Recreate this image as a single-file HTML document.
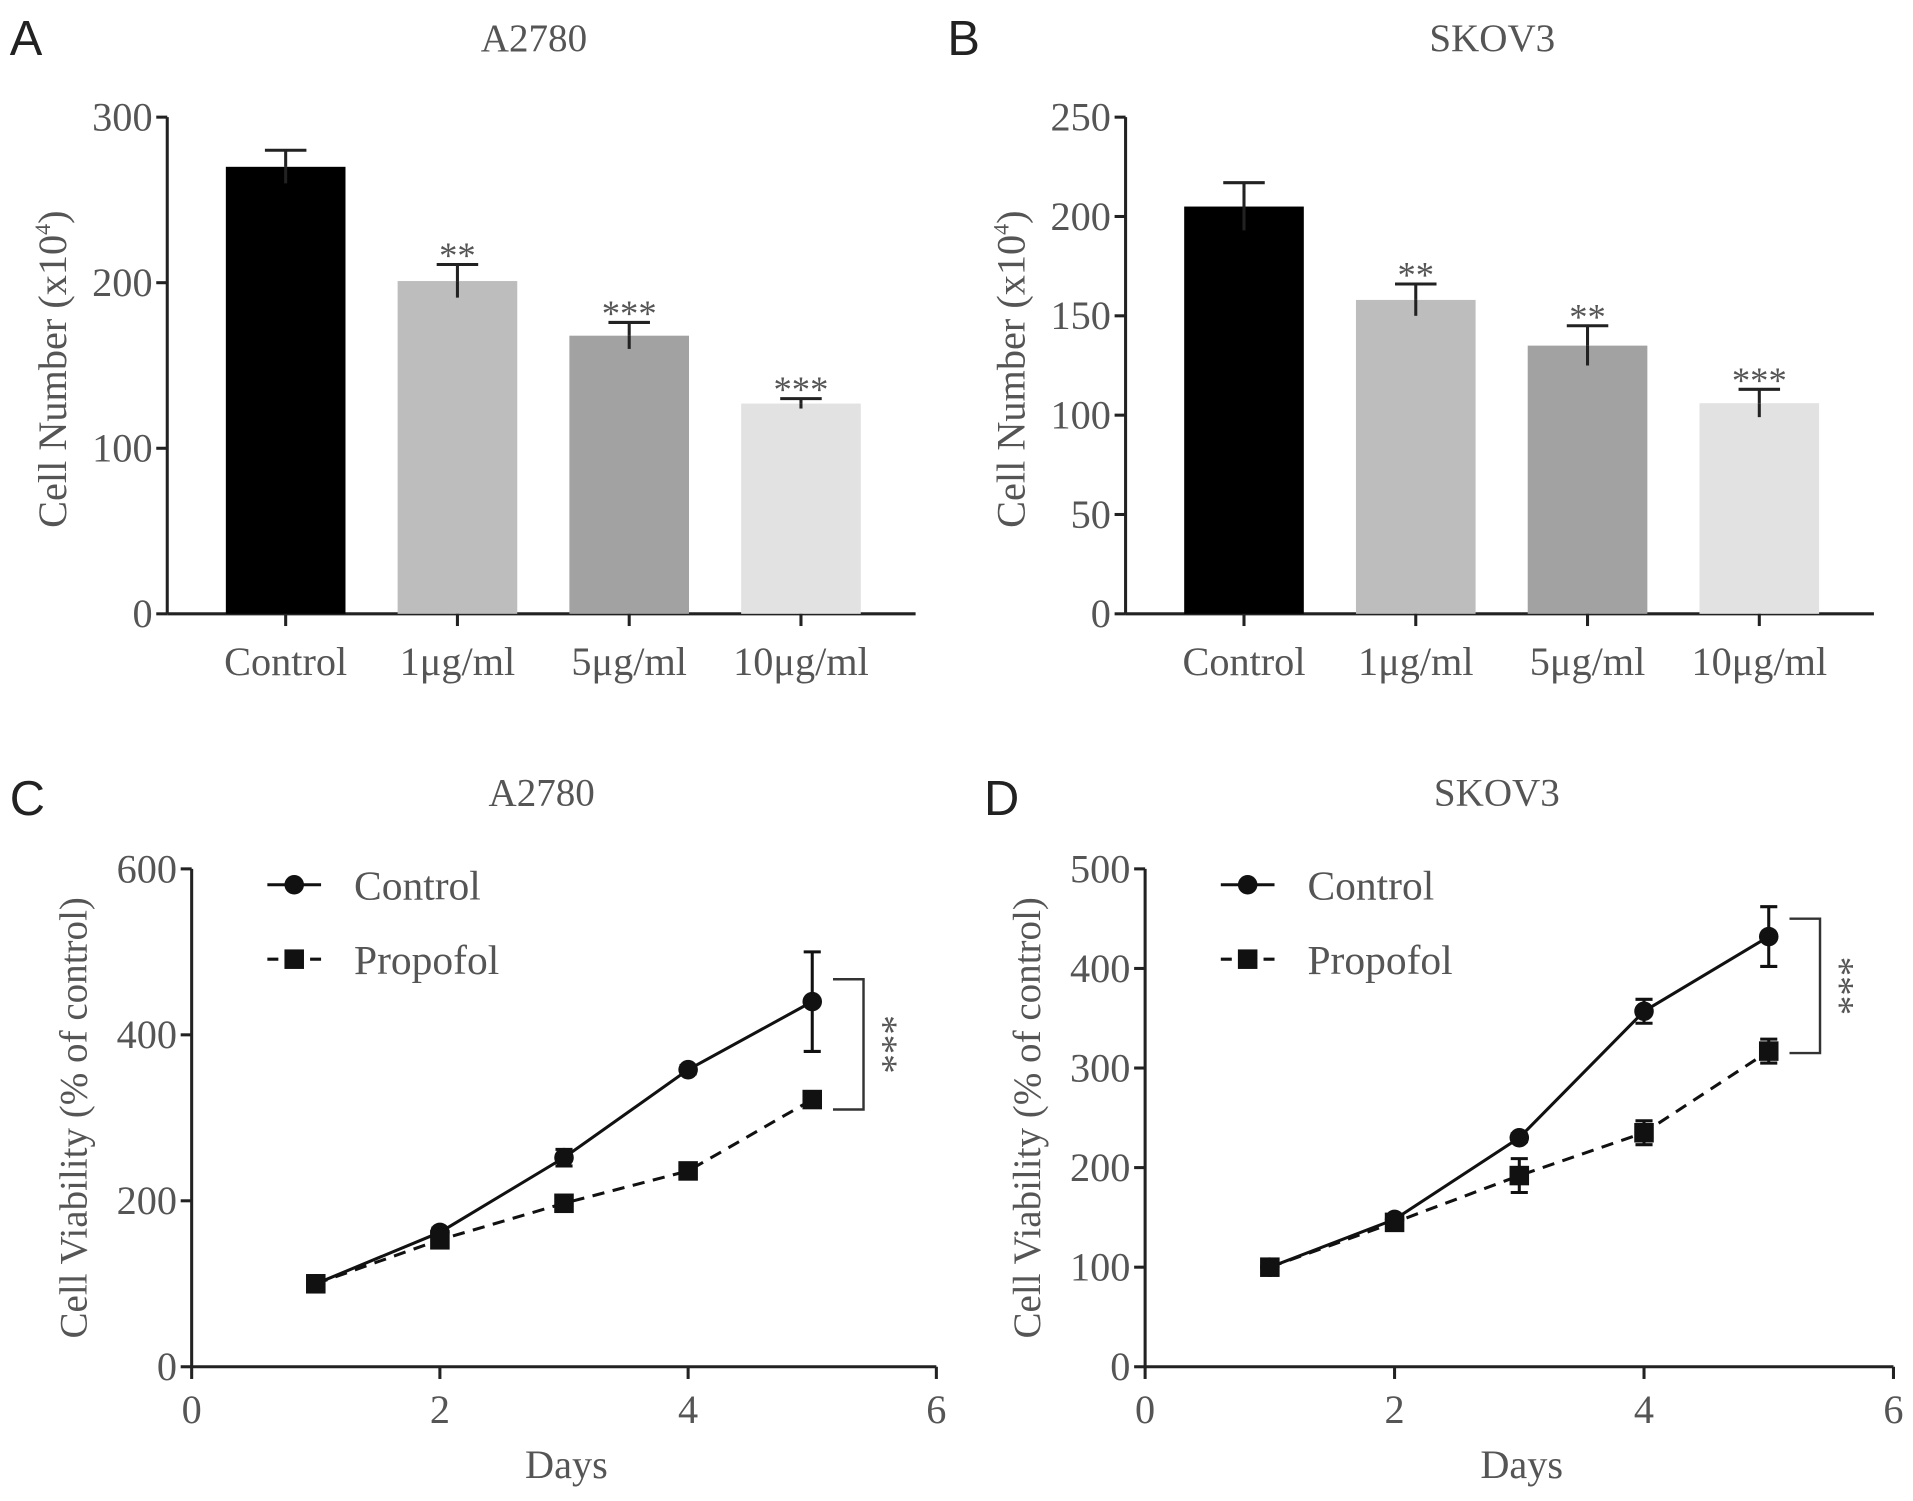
<!DOCTYPE html>
<html><head><meta charset="utf-8">
<style>
html,body{margin:0;padding:0;background:#fff;}
svg{display:block;}
text{font-family:"Liberation Serif",serif;fill:#555;}
.lbl{font-family:"Liberation Sans",sans-serif;fill:#222;}
</style></head>
<body>
<svg id="fig" width="1913" height="1501" viewBox="0 0 1567 1230" preserveAspectRatio="none"></svg>
<script>
const barCats = ["Control","1μg/ml","5μg/ml","10μg/ml"];
const barFills = ["#000","#bdbdbd","#a2a2a2","#e2e2e2"];
const aValues = [270,201,168,127];
const aErrors = [10,10,8,3];
const aStars = ["","**","***","***"];
const aTicks = [0,100,200,300];
const bValues = [205,158,135,106];
const bErrors = [12,8,10,7];
const bStars = ["","**","**","***"];
const bTicks = [0,50,100,150,200,250];
const days = [1,2,3,4,5];
const dayTicks = [0,2,4,6];
const cControl = [100,162,252,358,440];
const cControlErr = [3,5,10,5,60];
const cPropofol = [100,153,197,236,322];
const cPropofolErr = [3,4,5,5,6];
const cTicks = [0,200,400,600];
const dControl = [100,148,230,357,432];
const dControlErr = [3,4,4,12,30];
const dPropofol = [100,145,192,235,317];
const dPropofolErr = [3,4,17,12,12];
const dTicks = [0,100,200,300,400,500];

const NS="http://www.w3.org/2000/svg";
const svg=document.getElementById('fig');
function mk(tag,attrs,parent,txt){const e=document.createElementNS(NS,tag);for(const k in attrs)e.setAttribute(k,attrs[k]);if(txt!==undefined)e.textContent=txt;(parent||svg).appendChild(e);return e;}

function yAxis(g,x0,yTop,yBot,ticks,max){
  const sy=v=>yBot-(v/max)*(yBot-yTop);
  const ax=mk('line',{x1:x0,y1:yTop,x2:x0,y2:yBot,stroke:'#222','stroke-width':2.5},g);
  
  
  ticks.forEach(t=>{
    mk('line',{x1:x0-9,y1:sy(t),x2:x0,y2:sy(t),stroke:'#222','stroke-width':2.5},g);
    const tl=mk('text',{x:x0-12,y:sy(t)+11,'text-anchor':'end','font-size':33},g,String(t));
    
    
  });
  return sy;
}

function barPanel(name,letter,title,x0,xEnd,yTop,yBot,ticks,max,vals,errs,stars,letterX){
  const g=mk('g',{});
  
  
  const pl=mk('text',{x:letterX,y:45,'font-size':40,class:'lbl'},g,letter);
  
  
  const tt=mk('text',{x:x0+(xEnd-x0)*0.49,y:42,'text-anchor':'middle','font-size':32},g,title);
  
  
  const sy=yAxis(g,x0,yTop,yBot,ticks,max);
  const yt=mk('text',{x:0,y:0,'text-anchor':'middle','font-size':33,transform:`translate(${x0-83},${(yTop+yBot)/2+3}) rotate(-90)`},g);
  
  
  yt.appendChild(document.createTextNode('Cell Number (x10'));
  mk('tspan',{'font-size':18,dy:-13},yt,'4');
  mk('tspan',{dy:13},yt,')');
  const xa=mk('line',{x1:x0,y1:yBot,x2:xEnd,y2:yBot,stroke:'#222','stroke-width':2.5},g);
  
  
  const bw=98;
  vals.forEach((v,i)=>{
    const cx=x0+48+bw/2+i*140.7;
    const r=mk('rect',{x:cx-bw/2,y:sy(v),width:bw,height:yBot-sy(v),fill:barFills[i]},g);
    
    
    mk('line',{x1:cx,y1:sy(v),x2:cx,y2:sy(v+errs[i]),stroke:'#222','stroke-width':2.5},g);
    mk('line',{x1:cx-17,y1:sy(v+errs[i]),x2:cx+17,y2:sy(v+errs[i]),stroke:'#222','stroke-width':2.5},g);
    if(v-errs[i]>0) mk('line',{x1:cx,y1:sy(v),x2:cx,y2:sy(v-errs[i]),stroke:'#222','stroke-width':2.5},g);
    if(stars[i]){const s=mk('text',{x:cx,y:sy(v+errs[i])+3,'text-anchor':'middle','font-size':30,fill:'#333'},g,stars[i]);
      
      }
    mk('line',{x1:cx,y1:yBot,x2:cx,y2:yBot+10,stroke:'#222','stroke-width':2.5},g);
    const cl=mk('text',{x:cx,y:yBot+50,'text-anchor':'middle','font-size':33},g,barCats[i]);
    
    
  });
}

function linePanel(name,letter,title,x0,x6,yTop,yBot,ticks,max,ctl,ctlE,pro,proE,bracket,letterX){
  const g=mk('g',{});
  
  
  const pl=mk('text',{x:letterX,y:668,'font-size':40,class:'lbl'},g,letter);
  
  
  const tt=mk('text',{x:x0+(x6-x0)*0.47,y:660,'text-anchor':'middle','font-size':32},g,title);
  
  
  const sy=yAxis(g,x0,yTop,yBot,ticks,max);
  const sx=d=>x0+d/6*(x6-x0);
  const yt=mk('text',{x:0,y:0,'text-anchor':'middle','font-size':32,transform:`translate(${x0-86},${(yTop+yBot)/2}) rotate(-90)`},g,'Cell Viability (% of control)');
  
  
  const xa=mk('line',{x1:x0,y1:yBot,x2:x6,y2:yBot,stroke:'#222','stroke-width':2.5},g);
  
  
  dayTicks.forEach(t=>{
    mk('line',{x1:sx(t),y1:yBot,x2:sx(t),y2:yBot+10,stroke:'#222','stroke-width':2.5},g);
    const tl=mk('text',{x:sx(t),y:yBot+46,'text-anchor':'middle','font-size':33},g,String(t));
    
    
  });
  const xt=mk('text',{x:sx(3)+2,y:yBot+91,'text-anchor':'middle','font-size':33},g,'Days');
  
  
  const ptsP=days.map((d,i)=>sx(d)+','+sy(pro[i])).join(' ');
  const lp=mk('polyline',{points:ptsP,fill:'none',stroke:'#111','stroke-width':2.5,'stroke-dasharray':'10,7'},g);
  
  
  const ptsC=days.map((d,i)=>sx(d)+','+sy(ctl[i])).join(' ');
  const lc=mk('polyline',{points:ptsC,fill:'none',stroke:'#111','stroke-width':2.5},g);
  
  
  function err(x,v,e){
    mk('line',{x1:x,y1:sy(v-e),x2:x,y2:sy(v+e),stroke:'#111','stroke-width':2.5},g);
    mk('line',{x1:x-7,y1:sy(v-e),x2:x+7,y2:sy(v-e),stroke:'#111','stroke-width':2.5},g);
    mk('line',{x1:x-7,y1:sy(v+e),x2:x+7,y2:sy(v+e),stroke:'#111','stroke-width':2.5},g);
  }
  days.forEach((d,i)=>{
    err(sx(d),pro[i],proE[i]);
    const s=mk('rect',{x:sx(d)-8,y:sy(pro[i])-8,width:16,height:16,fill:'#111'},g);
    
    
    err(sx(d),ctl[i],ctlE[i]);
    const c=mk('circle',{cx:sx(d),cy:sy(ctl[i]),r:8,fill:'#111'},g);
    
    
  });
  const bx=sx(5)+17, bx2=bx+25;
  const br=mk('polyline',{points:`${bx},${sy(bracket[0])} ${bx2},${sy(bracket[0])} ${bx2},${sy(bracket[1])} ${bx},${sy(bracket[1])}`,fill:'none',stroke:'#333','stroke-width':2},g);
  
  
  const st=mk('text',{x:0,y:0,'text-anchor':'middle','font-size':32,fill:'#333',transform:`translate(${bx2+6},${(sy(bracket[0])+sy(bracket[1]))/2}) rotate(90)`},g,'***');
  
  
  const lx=x0+62;
  const le1=mk('g',{},g);
  
  
  mk('line',{x1:lx,y1:725,x2:lx+44,y2:725,stroke:'#111','stroke-width':2.5},le1);
  mk('circle',{cx:lx+22,cy:725,r:8,fill:'#111'},le1);
  mk('text',{x:lx+71,y:737,'font-size':34},le1,'Control');
  const le2=mk('g',{},g);
  
  
  mk('line',{x1:lx,y1:786,x2:lx+44,y2:786,stroke:'#111','stroke-width':2.5,'stroke-dasharray':'9,26'},le2);
  mk('rect',{x:lx+14,y:778,width:16,height:16,fill:'#111'},le2);
  mk('text',{x:lx+71,y:798,'font-size':34},le2,'Propofol');
}

barPanel('panel-a-chart','A','A2780',137,750,96,503,aTicks,300,aValues,aErrors,aStars,8);
barPanel('panel-b-chart','B','SKOV3',922,1535,96,503,bTicks,250,bValues,bErrors,bStars,776);
linePanel('panel-c-chart','C','A2780',157,767,712,1120,cTicks,600,cControl,cControlErr,cPropofol,cPropofolErr,[467,310],8);
linePanel('panel-d-chart','D','SKOV3',938,1551,712,1120,dTicks,500,dControl,dControlErr,dPropofol,dPropofolErr,[450,315],806);
</script>
</body></html>
